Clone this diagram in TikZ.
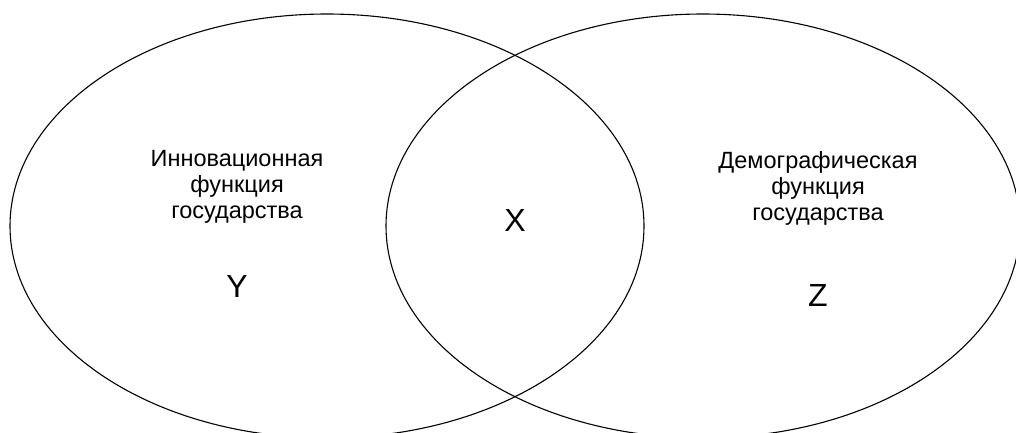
\documentclass[tikz,border=0pt]{standalone}
\usepackage{fontspec}
\setmainfont{Liberation Sans}
\usetikzlibrary{positioning, shapes.geometric}
\tikzset{
    set/.style = {ellipse, draw, line width=1.1pt, minimum width=634pt, minimum height=424pt, inner sep=0pt},
    caption/.style = {align=center, font=\fontsize{23.5}{26}\selectfont},
    letter/.style = {font=\fontsize{32}{32}\selectfont}
}

\begin{document}
\begin{tikzpicture}[x=1pt, y=-1pt]
		\useasboundingbox (0,0) rectangle (1016,432);
		\clip (0,0) rectangle (1016,432);
		\node (inno) [set] at (327,226) {};
		\node (demo) [set] at (703,226) {};
		\node (innotext) [caption] at (237,187) {Инновационная\\функция\\государства};
		\node (demotext) [caption] at (818,188) {Демографическая\\функция\\государства};
		\node (y) [letter] at (237,286) {Y};
		\node (x) [letter] at (515,220) {X};
		\node (z) [letter] at (818,295) {Z};
	\end{tikzpicture}
\end{document}
